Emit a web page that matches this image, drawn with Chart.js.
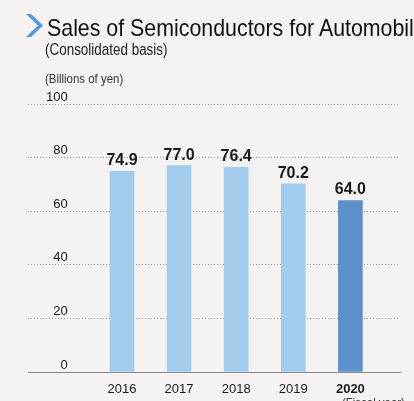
<!DOCTYPE html>
<html>
<head>
<meta charset="utf-8">
<script src="https://cdn.jsdelivr.net/npm/chart.js@4/dist/chart.umd.min.js"></script>
<style>
  html, body { margin: 0; padding: 0; background: #f4f3f2; }
  #wrap { position: relative; width: 414px; height: 401px; overflow: hidden; background: #f4f3f2; }
  #chart { position: absolute; left: 0; top: 0; }
  .txt { position: absolute; white-space: nowrap; color: #1a1a1a; line-height: 1;
         font-family: "Liberation Sans", Arial, sans-serif; transform-origin: 0 0; }
  #title { left: 47px; top: 16px; font-size: 24px; transform: scaleX(0.89); color: #111; }
  #sub { left: 45px; top: 42px; font-size: 16px; transform: scaleX(0.84); color: #222; }
  #unit { left: 45px; top: 72px; font-size: 13px; transform: scaleX(0.88); color: #333; }
  #fy { left: 342px; top: 396px; font-size: 13px; transform: scaleX(0.88); color: #333; }
  #chev { position: absolute; left: 0; top: 0; }
</style>
</head>
<body>
<div id="wrap">
  <canvas id="chart" width="414" height="401"></canvas>
  <svg id="chev" width="60" height="50"><polygon points="26,14 31,14 43,25.5 31,37 26,37 38,25.5" fill="#4f9be0"/></svg>
  <div class="txt" id="title">Sales of Semiconductors for Automobiles</div>
  <div class="txt" id="sub">(Consolidated basis)</div>
  <div class="txt" id="unit">(Billions of yen)</div>
  <div class="txt" id="fy">(Fiscal year)</div>
</div>
<script>
// Fiscal years and sales (billions of yen)
const years = ['2016', '2017', '2018', '2019', '2020'];
const sales = [74.9, 77.0, 76.4, 70.2, 64.0];
const yTicks = [0, 20, 40, 60, 80, 100];

const lightBlue = '#a3cbec';
const darkBlue = '#5d8fca';
const barColors = years.map((y, i) => i === years.length - 1 ? darkBlue : lightBlue);

// Value labels above each bar
const valueLabels = {
  id: 'valueLabels',
  afterDatasetsDraw(chart) {
    const ctx = chart.ctx;
    const meta = chart.getDatasetMeta(0);
    ctx.save();
    ctx.font = 'bold 16px "Liberation Sans", Arial, sans-serif';
    ctx.fillStyle = '#1a1a1a';
    ctx.textAlign = 'center';
    ctx.textBaseline = 'alphabetic';
    meta.data.forEach((bar, i) => {
      ctx.fillText(sales[i].toFixed(1), bar.x, bar.y - 6);
    });
    ctx.restore();
  }
};

new Chart(document.getElementById('chart'), {
  type: 'bar',
  data: {
    datasets: [{
      data: sales.map((v, i) => ({ x: i, y: v })),
      backgroundColor: barColors,
      borderWidth: 0,
      barThickness: 24
    }]
  },
  options: {
    responsive: false,
    animation: false,
    layout: { padding: { left: 28, right: 14, top: 104, bottom: 0 } },
    plugins: { legend: { display: false }, tooltip: { enabled: false } },
    scales: {
      x: {
        type: 'linear',
        offset: false,
        min: -1.646,
        max: 4.869,
        afterBuildTicks: s => { s.ticks = years.map((y, i) => ({ value: i })); },
        afterFit: s => { s.height = 29; },
        grid: { display: false, drawTicks: false },
        border: { display: true, color: '#8a8a8a', width: 1 },
        ticks: {
          padding: 10,
          color: '#1a1a1a',
          callback: v => years[v],
          font: c => ({ family: '"Liberation Sans", Arial, sans-serif', size: 13,
                        weight: c.index === years.length - 1 ? 'bold' : 'normal' })
        }
      },
      y: {
        min: 0,
        max: 100,
        afterBuildTicks: s => { s.ticks = yTicks.map(v => ({ value: v })); },
        afterFit: s => { s.width = 0; },
        grid: {
          drawTicks: false,
          color: c => c.tick && c.tick.value === 0 ? 'rgba(0,0,0,0)' : '#9a9a9a',
          lineWidth: 1
        },
        border: { display: false, dash: [1, 2] },
        ticks: {
          mirror: true,
          crossAlign: 'far',
          padding: 18,
          labelOffset: -7,
          color: '#1a1a1a',
          font: { family: '"Liberation Sans", Arial, sans-serif', size: 13 }
        }
      }
    }
  },
  plugins: [valueLabels]
});
</script>
</body>
</html>
